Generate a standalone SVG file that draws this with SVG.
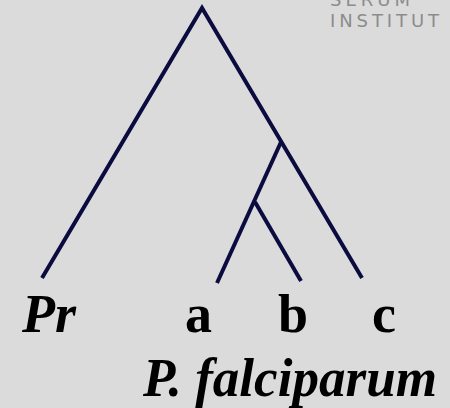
<svg xmlns="http://www.w3.org/2000/svg" width="450" height="408" viewBox="0 0 450 408">
<style>
.br{stroke:#0b0b40;stroke-width:4;fill:none;stroke-linecap:butt;stroke-linejoin:miter}
.lb{font-family:"Liberation Serif",serif;font-weight:bold;font-size:54px;fill:#000}
.it{font-style:italic}
.logo{font-family:"DejaVu Sans",sans-serif;font-size:18px;fill:#8c8c8c;letter-spacing:4px}
</style>
<rect width="450" height="408" fill="#dbdbdb"/>
<g id="logo">
<text class="logo" x="330" y="6">SERUM</text>
<text class="logo" x="330" y="27" textLength="113" lengthAdjust="spacing">INSTITUT</text>
</g>
<g id="connectors">
<polyline class="br" points="42,278 202,8 362,278"/>
<polyline class="br" points="217,283 281,142"/>
<line class="br" x1="255" y1="202" x2="301" y2="281"/>
</g>
<g id="node-Pr"><text class="lb it" x="22" y="332">Pr</text></g>
<g id="node-a"><text class="lb" x="185" y="332">a</text></g>
<g id="node-b"><text class="lb" x="278" y="332">b</text></g>
<g id="node-c"><text class="lb" x="372" y="332">c</text></g>
<g id="label-pf"><text class="lb it" x="143" y="396" textLength="294" lengthAdjust="spacingAndGlyphs">P. falciparum</text></g>
</svg>
